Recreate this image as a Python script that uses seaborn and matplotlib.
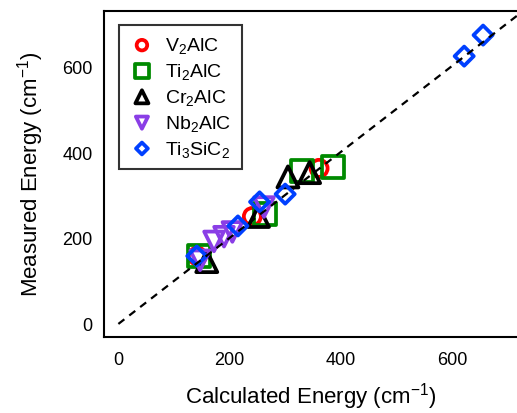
#Importamos librerías
import numpy as np
import pandas as pd
import seaborn as sns
import matplotlib.pyplot as plt

#Valores (cm-1)
v2alc_calc = [142, 241, 361]
v2alc_meas = [158, 250, 362]
ti2alc_calc = [145, 264, 330, 386]
ti2alc_meas = [158, 255, 355, 365]
cr2alc_calc = [159, 252, 305, 344]
cr2alc_meas = [145, 250, 342, 352]
nb2alc_calc = [147, 172, 190, 205, 262]
nb2alc_meas = [148, 192, 203, 214, 272]
ti3sic2_calc = [141, 215, 254, 300, 622, 656]
ti3sic2_meas = [158, 228, 284, 302, 623, 672]
diag = [0, 730]#LINEA y = x

sns.set_theme(style="white")
plt.rcParams["font.family"] = ["Liberation Sans", "DejaVu Sans"]
plt.rcParams["mathtext.fontset"] = "custom"
plt.rcParams["mathtext.rm"] = "Liberation Sans"
plt.rcParams["mathtext.it"] = "Liberation Sans"
plt.rcParams["text.color"] = "black"
plt.rcParams["axes.labelcolor"] = "black"

fig = plt.figure(figsize=(5.17, 4.14), dpi=100)
ax = fig.add_axes([0.201, 0.184, 0.799, 0.788])

series = [
    ("V$_2$AlC", v2alc_calc, v2alc_meas, "o", "#ff0000", 150),
    ("Ti$_2$AlC", ti2alc_calc, ti2alc_meas, "s", "#008a00", 250),
    ("Cr$_2$AlC", cr2alc_calc, cr2alc_meas, "^", "#000000", 230),
    ("Nb$_2$AlC", nb2alc_calc, nb2alc_meas, "v", "#8a3ee6", 200),
    ("Ti$_3$SiC$_2$", ti3sic2_calc, ti3sic2_meas, "D", "#0040ff", 95),
]

for name, xc, ym, mk, col, size in series:
    sns.scatterplot(x=xc, y=ym, marker=mk, s=size, color=col,
                    facecolor="none", edgecolor=col, linewidth=2.7,
                    label=name, ax=ax, zorder=3)

sns.lineplot(x=diag, y=diag, color="black", linestyle=(0, (3.4, 2.8)),
             linewidth=1.6, ax=ax, zorder=4)

ax.set_xlim(-26, 717)
ax.set_ylim(-30, 729)
ax.set_xticks([0, 200, 400, 600])
ax.set_yticks([0, 200, 400, 600])
ax.tick_params(direction="in", length=10, width=1.2, labelsize=13,
               colors="black", pad=8)
ax.tick_params(axis="x", pad=10)
for side in ["left", "bottom", "top"]:
    ax.spines[side].set_color("black")
    ax.spines[side].set_linewidth(1.5)
ax.spines["right"].set_visible(False)

ax.set_xlabel("Calculated Energy (cm$^{\\mathregular{-1}}$)", fontsize=16,
              labelpad=9)
ax.set_ylabel("Measured Energy (cm$^{\\mathregular{-1}}$)", fontsize=16,
              labelpad=12)

leg = ax.legend(loc="upper left", bbox_to_anchor=(0.012, 0.987),
                fontsize=14, markerscale=0.62, frameon=True, fancybox=False,
                handletextpad=0.55, labelspacing=0.3, borderpad=0.55,
                handlelength=1.3)
leg.get_frame().set_edgecolor("black")
leg.get_frame().set_linewidth(1.5)

fig.savefig("out.png", dpi=100)
